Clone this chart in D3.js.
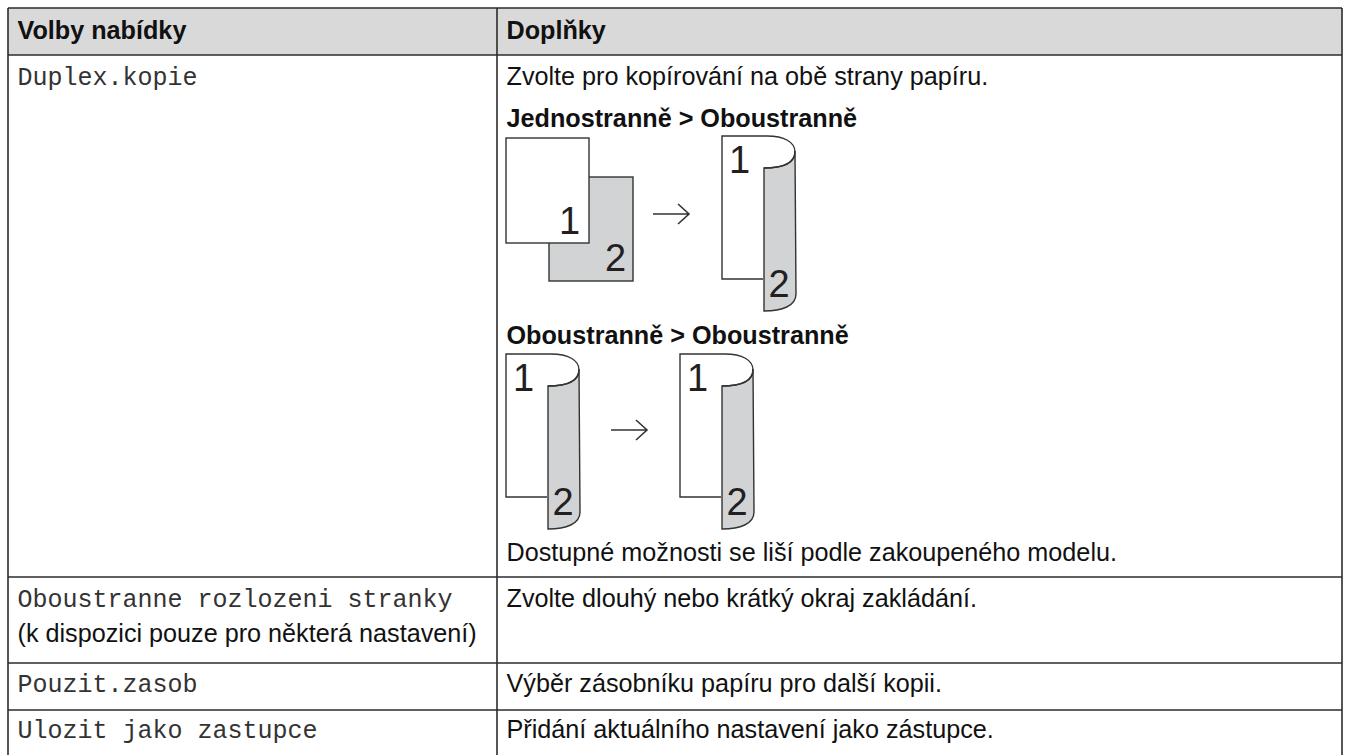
<!DOCTYPE html>
<html lang="cs">
<head>
  <meta charset="UTF-8">
  <title>Volby nabídky</title>
  <style>
    html, body { margin: 0; background: #fff; overflow: hidden; }
    svg { display: block; }
    text { font-family: "Liberation Sans", Arial, sans-serif; font-size: 25.2px; fill: #111; }
    .head, .sub { font-weight: bold; }
    .mono { font-family: "Liberation Mono", monospace; font-size: 25px; fill: #333; }
    .digit { font-size: 38px; fill: #231f20; }
    .line { stroke: #2b2b2b; stroke-width: 1.6; fill: none; }
    .edge { stroke: #333; stroke-width: 1.4; fill: none; }
  </style>
</head>
<body>
  <script src="https://d3js.org/d3.v7.min.js"></script>
  <script>
    // table content
    const headers = ["Volby nabídky", "Doplňky"];
    const menuItems = ["Duplex.kopie", "Oboustranne rozlozeni stranky", "Pouzit.zasob", "Ulozit jako zastupce"];
    const menuNote = "(k dispozici pouze pro některá nastavení)";
    const details = [
      "Zvolte pro kopírování na obě strany papíru.",
      "Zvolte dlouhý nebo krátký okraj zakládání.",
      "Výběr zásobníku papíru pro další kopii.",
      "Přidání aktuálního nastavení jako zástupce."
    ];
    const subHeads = ["Jednostranně > Oboustranně", "Oboustranně > Oboustranně"];
    const footNote = "Dostupné možnosti se liší podle zakoupeného modelu.";
    const digits = ["1", "2"];

    const width = 1347, height = 755;
    const svg = d3.select("body").append("svg").attr("width", width).attr("height", height);

    // grid lines
    const colEdges = [8, 497, 1342];
    const rowEdges = [8, 55, 577, 663, 710];
    const rowText = [85, 607, 692, 738];

    svg.append("rect").attr("x", colEdges[0]).attr("y", rowEdges[0])
      .attr("width", colEdges[2] - colEdges[0]).attr("height", rowEdges[1] - rowEdges[0])
      .attr("fill", "#d9d9d9");

    svg.selectAll("line.h").data(rowEdges).enter().append("line")
      .attr("class", "h line")
      .attr("x1", colEdges[0]).attr("x2", colEdges[2])
      .attr("y1", d => d).attr("y2", d => d);

    svg.selectAll("line.v").data(colEdges).enter().append("line")
      .attr("class", "v line")
      .attr("x1", d => d).attr("x2", d => d)
      .attr("y1", rowEdges[0]).attr("y2", height);

    // header and cells
    svg.selectAll("text.head").data(headers).enter().append("text")
      .attr("class", "head")
      .attr("x", (d, i) => colEdges[i] + 9.5).attr("y", 39)
      .text(d => d);

    svg.selectAll("text.mono").data(menuItems).enter().append("text")
      .attr("class", "mono")
      .attr("x", colEdges[0] + 9.5).attr("y", (d, i) => rowText[i])
      .text(d => d);

    svg.append("text").attr("x", colEdges[0] + 9.5).attr("y", 642).text(menuNote);

    svg.selectAll("text.detail").data(details).enter().append("text")
      .attr("class", "detail")
      .attr("x", colEdges[1] + 9.5).attr("y", (d, i) => rowText[i])
      .text(d => d);

    svg.selectAll("text.sub").data(subHeads).enter().append("text")
      .attr("class", "sub")
      .attr("x", colEdges[1] + 9.5).attr("y", (d, i) => [127, 344][i])
      .text(d => d);

    svg.append("text").attr("x", colEdges[1] + 9.5).attr("y", 560.5).text(footNote);

    // flat sheet pair
    function flatPages(x, y) {
      const g = svg.append("g").attr("transform", `translate(${x},${y})`);
      g.append("rect").attr("class", "edge").attr("x", 43).attr("y", 39).attr("width", 84).attr("height", 104).style("fill", "#d1d3d4");
      g.append("rect").attr("class", "edge").attr("width", 83).attr("height", 105).style("fill", "#fff");
      g.append("text").attr("class", "digit").attr("x", 53).attr("y", 96).text(digits[0]);
      g.append("text").attr("class", "digit").attr("x", 99).attr("y", 133).text(digits[1]);
    }

    // folded duplex sheet
    function foldedPage(x, y) {
      const g = svg.append("g").attr("transform", `translate(${x},${y})`);
      const back = d3.path();
      back.moveTo(42, 32);
      back.bezierCurveTo(60, 32, 73, 28, 73, 15);
      back.lineTo(74, 158);
      back.bezierCurveTo(74, 170, 60, 175, 42, 175);
      back.closePath();
      g.append("path").attr("class", "edge").attr("d", back.toString()).style("fill", "#d1d3d4");

      const front = d3.path();
      front.moveTo(41, 143);
      front.lineTo(0, 143);
      front.lineTo(0, 0);
      front.lineTo(45, 0);
      front.bezierCurveTo(62, 0, 73, 6, 73, 16);
      front.bezierCurveTo(73, 28, 60, 32, 42, 32);
      g.append("path").attr("class", "edge").attr("d", front.toString());

      g.append("text").attr("class", "digit").attr("x", 7).attr("y", 36.5).text(digits[0]);
      g.append("text").attr("class", "digit").attr("x", 46.5).attr("y", 161).text(digits[1]);
    }

    function arrow(x, y) {
      const p = d3.path();
      p.moveTo(x, y); p.lineTo(x + 36, y);
      p.moveTo(x + 25, y - 10); p.lineTo(x + 36, y); p.lineTo(x + 25, y + 10);
      svg.append("path").attr("class", "edge").attr("d", p.toString()).style("stroke-width", 1.6);
    }

    flatPages(506, 138);
    arrow(653, 214);
    foldedPage(722, 136);
    foldedPage(506, 354);
    arrow(611, 430);
    foldedPage(680, 354);
  </script>
</body>
</html>
